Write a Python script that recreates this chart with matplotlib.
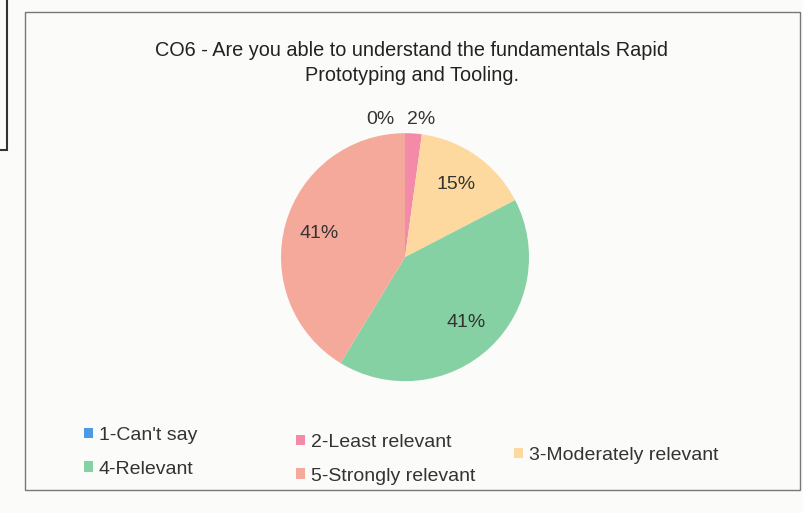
import numpy as np
import matplotlib
matplotlib.use("Agg")
import matplotlib.pyplot as plt
from matplotlib.patches import Rectangle, Patch

plt.rcParams['font.family'] = ['Liberation Sans', 'DejaVu Sans']

# data
categories = ['1-Can\'t say', '2-Least relevant', '3-Moderately relevant',
              '4-Relevant', '5-Strongly relevant']
counts = [0, 1, 7, 19, 19]
colors = ['#4a9be6', '#f28aa8', '#fdd9a0', '#86d1a4', '#f5a99b']
title = 'CO6 - Are you able to understand the fundamentals Rapid\nPrototyping and Tooling.'

fig = plt.figure(figsize=(8.04, 5.13), dpi=100)
fig.patch.set_facecolor('#fbfbfa')

# scanned page frame
fig.patches.append(Rectangle((25 / 804, 1 - 490 / 513), 775 / 804, 478 / 513,
                             transform=fig.transFigure, fill=False,
                             edgecolor='#777777', linewidth=1.0))
fig.patches.append(Rectangle((-0.01, 1 - 150 / 513), 0.019, 0.3,
                             transform=fig.transFigure, fill=False,
                             edgecolor='#333333', linewidth=1.5))

fig.text(412 / 804, 1 - 63 / 513, title, ha='center', va='center',
         fontsize=14.3, color='#222222', linespacing=1.35)

ax = fig.add_axes([0.3495, 0.257, 0.3085, 0.4834])
wedges, texts, autotexts = ax.pie(counts, colors=colors, startangle=90,
                                  counterclock=False, radius=1,
                                  autopct='%1.0f%%', pctdistance=0.72,
                                  wedgeprops=dict(linewidth=0))
ax.set_xlim(-1, 1)
ax.set_ylim(-1, 1)
ax.set_aspect('equal')
ax.axis('off')

total = sum(counts)
for i, t in enumerate(autotexts):
    t.set_fontsize(14)
    t.set_color('#333333')
    if counts[i] / total < 0.05:
        t.set_position((-0.2 + 0.33 * i, 1.11))

# legend laid out in fixed-width columns (row 1: items 1,2,3 ; row 2: items 4,5)
handles = [Patch(facecolor=c, edgecolor='none') for c in colors]
columns = [[0, 3], [1, 4], [2]]
col_x = [84, 296, 514]
col_y = [427, 434, 447]
for idx, x, y in zip(columns, col_x, col_y):
    leg = fig.legend([handles[i] for i in idx], [categories[i] for i in idx],
                     loc='upper left', bbox_to_anchor=(x / 804, 1 - y / 513),
                     frameon=False, fontsize=14, handlelength=0.45,
                     handleheight=0.45, handletextpad=0.3, labelspacing=0.85,
                     labelcolor='#333333', borderaxespad=0, borderpad=0)

fig.savefig('out.png', dpi=100, facecolor=fig.get_facecolor())
